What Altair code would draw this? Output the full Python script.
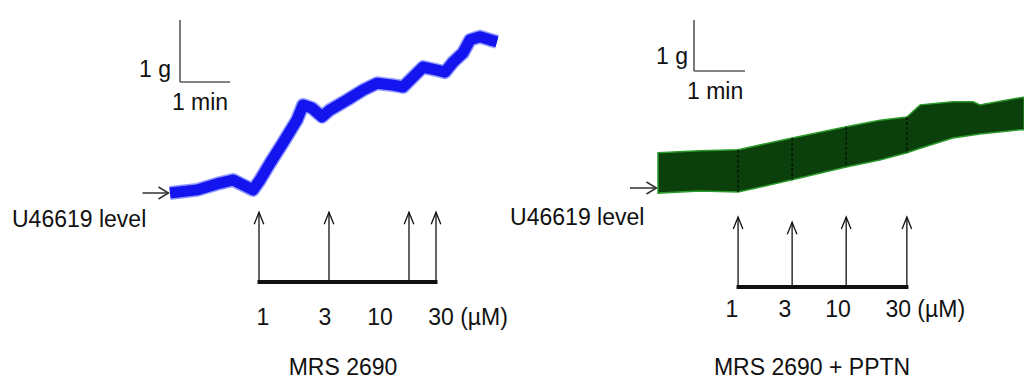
import altair as alt
import pandas as pd

# ---------------- data (time in min, tension in g above U46619 level) ----------------
# Left panel: MRS 2690 alone (blue trace)
left_trace_t = [0, 0.54, 1.0, 1.26, 1.46, 1.66, 1.8, 2.0, 2.26, 2.54, 2.66, 2.84, 3.04, 3.2,
                3.54, 3.86, 4.14, 4.46, 4.66, 4.86, 5.06, 5.34, 5.5, 5.66, 5.86, 6.0, 6.2, 6.4, 6.54]
left_trace_g = [0, 0.05, 0.16, 0.21, 0.13, 0.05, 0.21, 0.48, 0.81, 1.18, 1.42, 1.37, 1.23, 1.34,
                1.5, 1.66, 1.77, 1.74, 1.71, 1.87, 2.03, 1.98, 1.95, 2.11, 2.26, 2.47, 2.52, 2.47, 2.44]
left_inj_t = [1.78, 3.18, 4.78, 5.32]
left_inj_top = [-0.31, -0.31, -0.31, -0.31]

# Right panel: MRS 2690 + PPTN (green, thick oscillating band)
right_band_t = [0, 0.82, 1.57, 2.63, 3.69, 4.35, 4.88, 5.14, 5.78, 6.18, 6.31, 7.1, 7.18]
right_band_hi = [0.69, 0.73, 0.75, 0.98, 1.2, 1.33, 1.39, 1.63, 1.69, 1.69, 1.63, 1.77, 1.78]
right_band_lo = [-0.1, -0.06, -0.08, 0.16, 0.41, 0.55, 0.69, 0.78, 0.98, 1.04, 1.06, 1.14, 1.14]
right_inj_t = [1.57, 2.63, 3.69, 4.88]
right_inj_top = [-0.57, -0.67, -0.57, -0.57]

dose_labels = ["1", "3", "10", "30 (\u00b5M)"]

# ---------------- styles / layout ----------------
FONT = "Liberation Sans, Arial, sans-serif"
FS = 23
BLUE = "#1414ee"
GREEN = "#0b3f0b"
GREEN_EDGE = "#2a9a2a"
INK = "#111111"
GREY = "#5a5a5a"
H = 367

# pixel calibration of each panel: origin of (t=0, g=0), pixels per min and per g, panel edges
CAL_L = dict(x0=170, ppm=50, y0=193, ppg=62, left=8, right=508)
CAL_R = dict(x0=658, ppm=51, y0=188, ppg=51, left=508, right=1024)


def scales(c):
    xs = alt.Scale(domain=[(c["left"] - c["x0"]) / c["ppm"], (c["right"] - c["x0"]) / c["ppm"]],
                   nice=False, zero=False)
    ys = alt.Scale(domain=[(c["y0"] - 375) / c["ppg"], (c["y0"] - 8) / c["ppg"]],
                   nice=False, zero=False)
    return xs, ys


UP_HEAD = "M-0.8,2L0,0L0.8,2"
RIGHT_HEAD = "M-2,-1.2L0,0L-2,1.2"


def annotations(c, inj_t, inj_top, bar_g, dose_t, dose_g, drug_label, drug_t, drug_g,
                level_t, level_g, sb_t, sb_g, g_lbl, min_lbl):
    xs, ys = scales(c)
    X = lambda f="t": alt.X(f"{f}:Q", scale=xs, axis=None)
    Y = lambda f="g": alt.Y(f"{f}:Q", scale=ys, axis=None)
    layers = []

    # scale bars (1 g vertical, 1 min horizontal)
    sb = pd.DataFrame({"t": [sb_t, sb_t], "t2": [sb_t, sb_t + 1],
                       "g": [sb_g, sb_g], "g2": [sb_g + 1, sb_g]})
    layers.append(alt.Chart(sb).mark_rule(color=GREY, strokeWidth=1.6).encode(
        x=X(), x2="t2:Q", y=Y(), y2="g2:Q"))
    sbt = pd.DataFrame({"t": [g_lbl[0], min_lbl[0]], "g": [g_lbl[1], min_lbl[1]],
                        "txt": ["1 g", "1 min"], "al": ["right", "center"]})
    layers.append(alt.Chart(sbt[sbt.al == "right"]).mark_text(
        font=FONT, fontSize=FS, align="right", baseline="middle", color=INK, dx=-2).encode(
        x=X(), y=Y(), text="txt:N"))
    layers.append(alt.Chart(sbt[sbt.al == "center"]).mark_text(
        font=FONT, fontSize=FS, align="center", baseline="middle", color=INK).encode(
        x=X(), y=Y(), text="txt:N"))

    # U46619 level arrow and label
    base = pd.DataFrame({"t": [-0.55], "t2": [-0.03], "g": [0.0]})
    layers.append(alt.Chart(base).mark_rule(color="#333333", strokeWidth=1.5).encode(
        x=X(), x2="t2:Q", y=Y()))
    layers.append(alt.Chart(base).mark_point(shape=RIGHT_HEAD, size=100, filled=False,
                                             color="#333333", strokeWidth=1.5, opacity=1).encode(
        x=X("t2"), y=Y()))
    lvl = pd.DataFrame({"t": [level_t], "g": [level_g], "txt": ["U46619 level"]})
    layers.append(alt.Chart(lvl).mark_text(font=FONT, fontSize=FS, align="left", baseline="middle",
                                           color=INK).encode(x=X(), y=Y(), text="txt:N"))

    # injection arrows
    inj = pd.DataFrame({"t": inj_t, "top": inj_top, "bot": [bar_g] * len(inj_t)})
    layers.append(alt.Chart(inj).mark_rule(color=INK, strokeWidth=1.3).encode(
        x=X(), y=Y("top"), y2="bot:Q"))
    layers.append(alt.Chart(inj).mark_point(shape=UP_HEAD, size=144, filled=False, color=INK,
                                            strokeWidth=1.3, opacity=1).encode(
        x=X(), y=Y("top")))
    bar = pd.DataFrame({"t": [min(inj_t) - 0.03], "t2": [max(inj_t) + 0.03], "g": [bar_g]})
    layers.append(alt.Chart(bar).mark_rule(color=INK, strokeWidth=4).encode(
        x=X(), x2="t2:Q", y=Y()))

    # dose labels and drug label
    dl = pd.DataFrame({"t": dose_t, "g": [dose_g] * len(dose_t), "txt": dose_labels})
    layers.append(alt.Chart(dl).mark_text(font=FONT, fontSize=FS, align="center",
                                          baseline="middle", color=INK).encode(
        x=X(), y=Y(), text="txt:N"))
    dr = pd.DataFrame({"t": [drug_t], "g": [drug_g], "txt": [drug_label]})
    layers.append(alt.Chart(dr).mark_text(font=FONT, fontSize=FS, align="center",
                                          baseline="middle", color=INK).encode(
        x=X(), y=Y(), text="txt:N"))
    return layers, X, Y


# ---------------- left panel ----------------
layers_l, XL, YL = annotations(
    CAL_L, left_inj_t, left_inj_top, -1.435,
    [1.86, 3.1, 4.2, 5.96], -2.02, "MRS 2690", 3.46, -2.82,
    -3.16, -0.44, 0.2, 1.79, (0.06, 1.98), (0.6, 1.45))
trace_l = pd.DataFrame({"t": left_trace_t, "g": left_trace_g})
blue_halo = alt.Chart(trace_l).mark_line(color="#3c4cff", strokeWidth=14, opacity=0.55,
                                         strokeJoin="round", strokeCap="butt").encode(
    x=XL(), y=YL())
blue = alt.Chart(trace_l).mark_line(color=BLUE, strokeWidth=11, strokeJoin="round",
                                    strokeCap="butt").encode(x=XL(), y=YL())
left = alt.layer(blue_halo, blue, *layers_l).properties(
    width=CAL_L["right"] - CAL_L["left"], height=H)

# ---------------- right panel ----------------
layers_r, XR, YR = annotations(
    CAL_R, right_inj_t, right_inj_top, -1.94,
    [1.45, 2.49, 3.53, 5.24], -2.39, "MRS 2690 + PPTN", 3.02, -3.53,
    -2.9, -0.59, 0.706, 2.294, (0.627, 2.57), (1.12, 1.88))
band = pd.DataFrame({"t": right_band_t, "hi": right_band_hi, "lo": right_band_lo})
green = alt.Chart(band).mark_area(color=GREEN, stroke=GREEN_EDGE, strokeWidth=1.5,
                                  clip=True).encode(x=XR(), y=YR("hi"), y2="lo:Q")
marks = alt.Chart(pd.DataFrame({"t": right_inj_t})).transform_lookup(
    lookup="t", from_=alt.LookupData(band, "t", ["hi", "lo"])
).mark_rule(color="#021402", strokeWidth=1.5, strokeDash=[3, 2]).encode(
    x=XR(), y=YR("hi"), y2="lo:Q")
right = alt.layer(green, marks, *layers_r).properties(
    width=CAL_R["right"] - CAL_R["left"], height=H)

chart = alt.hconcat(left, right, spacing=0).properties(
    padding=0, bounds="flush").configure_view(stroke=None)

chart.save("out.html", embed_options={"renderer": "svg", "actions": False})
